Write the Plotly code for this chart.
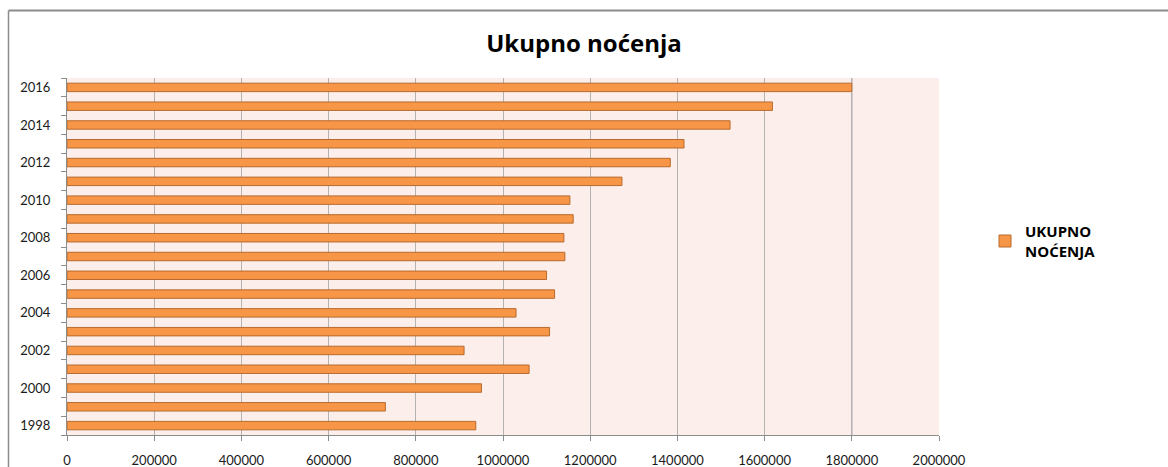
import plotly.graph_objects as go

years = [1998, 1999, 2000, 2001, 2002, 2003, 2004, 2005, 2006, 2007,
         2008, 2009, 2010, 2011, 2012, 2013, 2014, 2015, 2016]
nocenja = [937600, 730200, 950600, 1059900, 910700, 1106800, 1029900, 1118300,
           1099900, 1141900, 1139600, 1161000, 1153400, 1272800, 1383700,
           1415200, 1520800, 1617900, 1800000]
label_years = [1998, 2000, 2002, 2004, 2006, 2008, 2010, 2012, 2014, 2016]
x_ticks = [0, 200000, 400000, 600000, 800000, 1000000, 1200000, 1400000,
           1600000, 1800000, 2000000]
series_name = "<b>UKUPNO<br>NOĆENJA</b>"
title_text = "<b>Ukupno noćenja</b>"

FONT = "Lato"
W, H = 1168, 467
ml, mr, mt, mb = 67, 229, 78, 32
pw, ph = W - ml - mr, H - mt - mb

fig = go.Figure()
fig.add_trace(go.Bar(
    x=nocenja, y=years, orientation="h", width=0.45,
    name=series_name,
    marker=dict(color="#F79646", line=dict(color="#B86A2E", width=1)),
    showlegend=True,
))

def px_to_paper_x(px):
    return (px - ml) / pw

def px_to_paper_y(py):
    return (H - mb - py) / ph

fig.update_layout(
    width=W, height=H,
    margin=dict(l=ml, r=mr, t=mt, b=mb, autoexpand=False),
    paper_bgcolor="white",
    plot_bgcolor="#FCEEEA",
    font=dict(family=FONT, size=13, color="#1a1a1a"),
    title=dict(text=title_text, x=0.5, xref="container", xanchor="center",
               y=1 - 44 / H, yref="container", yanchor="middle",
               font=dict(family="Open Sans", size=24, color="black")),
    xaxis=dict(range=[0, 2000000], tickvals=x_ticks,
               ticktext=[str(v) for v in x_ticks],
               showgrid=True, gridcolor="#B3B3B3", gridwidth=1,
               zeroline=False, showline=True, linecolor="#8C8C8C", linewidth=1,
               ticks="outside", ticklen=5, tickcolor="#8C8C8C",
               ticklabelstandoff=8, automargin=False,
               tickfont=dict(family=FONT, size=13, color="#1a1a1a")),
    yaxis=dict(range=[1997.5, 2016.5], tickvals=label_years,
               ticktext=[str(v) for v in label_years],
               showgrid=False, zeroline=False,
               showline=True, linecolor="#8C8C8C", linewidth=1,
               ticks="", ticklen=0, ticklabelstandoff=13, automargin=False,
               minor=dict(tick0=1997.5, dtick=1, ticks="outside", ticklen=5,
                          tickcolor="#8C8C8C", showgrid=False),
               tickfont=dict(family=FONT, size=13, color="#1a1a1a")),
    legend=dict(x=px_to_paper_x(985), y=px_to_paper_y(241), xanchor="left",
                yanchor="middle", font=dict(family="Open Sans", size=15, color="black"),
                bgcolor="rgba(0,0,0,0)", itemwidth=30),
    bargap=0.55,
    shapes=[
        dict(type="line", xref="paper", yref="paper",
             x0=px_to_paper_x(8.5), x1=px_to_paper_x(1170),
             y0=px_to_paper_y(10.5), y1=px_to_paper_y(10.5),
             line=dict(color="#8C8C8C", width=2)),
        dict(type="line", xref="paper", yref="paper",
             x0=px_to_paper_x(8.5), x1=px_to_paper_x(8.5),
             y0=px_to_paper_y(10.5), y1=px_to_paper_y(470),
             line=dict(color="#8C8C8C", width=1.5)),
        dict(type="line", xref="x", yref="paper",
             x0=x_ticks[-2], x1=x_ticks[-2], y0=0, y1=1,
             line=dict(color="#808080", width=1), layer="below"),
    ],
)

fig.write_html("out.html", config={"displayModeBar": False},
               post_script="document.body.style.margin='0';document.body.style.overflow='hidden';")
